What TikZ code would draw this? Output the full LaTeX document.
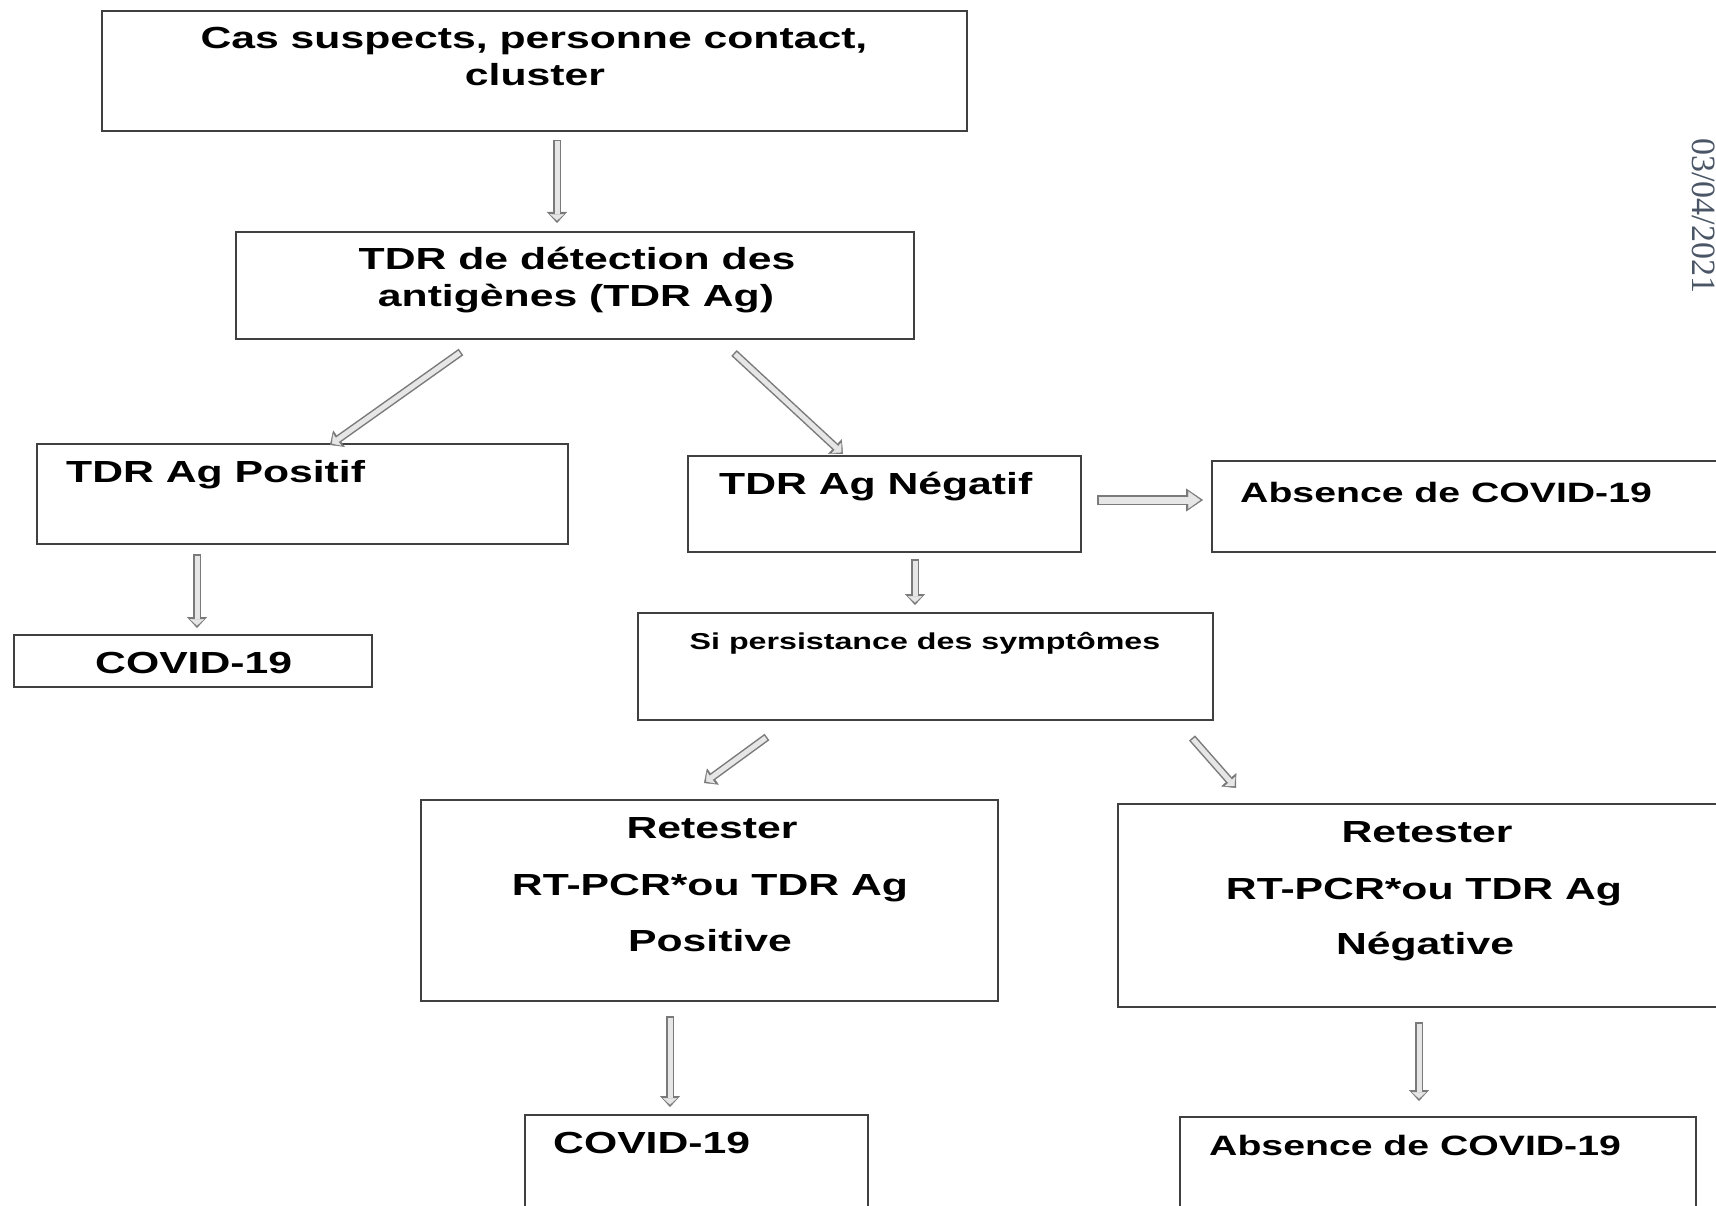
\documentclass[tikz,border=0pt]{standalone}
\usepackage{fontspec}
\setmainfont{Liberation Sans}[FakeStretch=1.4]
\newfontfamily\datefont{Liberation Serif}
\usetikzlibrary{arrows.meta}
\definecolor{boxline}{HTML}{404040}
\definecolor{arrline}{HTML}{7A7A7A}
\definecolor{arrfill}{HTML}{E6E6E6}
\definecolor{datecol}{HTML}{4A5565}
\tikzset{
  box/.style={draw=boxline, line width=2pt, fill=white, inner sep=0pt, outer sep=0pt, anchor=north west},
  txt/.style={inner sep=0pt, font=\bfseries\fontsize{30.5}{36}\selectfont},
  txtsmall/.style={inner sep=0pt, font=\bfseries\fontsize{28}{34}\selectfont},
  txttiny/.style={inner sep=0pt, font=\bfseries\fontsize{23}{28}\selectfont},
  holarrow/.style={line width=8pt, draw=arrline,
    -{Triangle[length=11pt,width=20pt,line width=0.4pt]},
    postaction={draw=arrfill, line width=5pt,
      -{Triangle[length=6.5pt,width=14pt,line width=0.4pt]},
      shorten >=2.4pt, shorten <=1.5pt}},
  holarrowbig/.style={line width=10pt, draw=arrline,
    -{Triangle[length=17pt,width=23pt,line width=0.4pt]},
    postaction={draw=arrfill, line width=7pt,
      -{Triangle[length=12pt,width=17pt,line width=0.4pt]},
      shorten >=2.6pt, shorten <=1.5pt}}
}
\begin{document}
\begin{tikzpicture}[x=1pt,y=-1pt]
\useasboundingbox (0,0) rectangle (1716,1206);
\clip (0,0) rectangle (1716,1206);
\fill[white] (0,0) rectangle (1716,1206);

% boxes
\node[box, minimum width=865pt, minimum height=120pt] (b1) at (102,11) {};
\node[box, minimum width=678pt, minimum height=107pt] (b2) at (236,232) {};
\node[box, minimum width=531pt, minimum height=100pt] (b3) at (37,444) {};
\node[box, minimum width=393pt, minimum height=96pt] (b4) at (688,456) {};
\node[box, minimum width=518pt, minimum height=91pt] (b5) at (1212,461) {};
\node[box, minimum width=358pt, minimum height=52pt] (b6) at (14,635) {};
\node[box, minimum width=575pt, minimum height=107pt] (b7) at (638,613) {};
\node[box, minimum width=577pt, minimum height=201pt] (b8) at (421,800) {};
\node[box, minimum width=612pt, minimum height=203pt] (b9) at (1118,804) {};
\node[box, minimum width=343pt, minimum height=115pt] (b10) at (525,1115) {};
\node[box, minimum width=516pt, minimum height=113pt] (b11) at (1180,1117) {};

% texts
\node[txt, anchor=base] (t1a) at (534,49) {Cas suspects, personne contact,};
\node[txt, anchor=base] (t1b) at (535,86) {cluster};
\node[txt, anchor=base] (t2a) at (577,270) {TDR de détection des};
\node[txt, anchor=base] (t2b) at (576,306) {antigènes (TDR Ag)};
\node[txt, anchor=base west] (t3) at (66,482) {TDR Ag Positif};
\node[txt, anchor=base west] (t4) at (719,494) {TDR Ag Négatif};
\node[txtsmall, anchor=base west] (t5) at (1240,502) {Absence de COVID-19};
\node[txt, anchor=base west] (t6) at (95,673) {COVID-19};
\node[txttiny, anchor=base] (t7) at (925,649) {Si persistance des symptômes};
\node[txt, anchor=base] (t8a) at (712,838) {Retester};
\node[txt, anchor=base] (t8b) at (710,895) {RT-PCR*ou TDR Ag};
\node[txt, anchor=base] (t8c) at (710,951) {Positive};
\node[txt, anchor=base] (t9a) at (1427,842) {Retester};
\node[txt, anchor=base] (t9b) at (1424,899) {RT-PCR*ou TDR Ag};
\node[txt, anchor=base] (t9c) at (1425,954) {Négative};
\node[txt, anchor=base west] (t10) at (553,1153) {COVID-19};
\node[txtsmall, anchor=base west] (t11) at (1209,1155) {Absence de COVID-19};

% date stamp
\node[anchor=base west, rotate=-90, inner sep=0pt, text=datecol,
      font=\datefont\fontsize{34}{34}\selectfont] (date) at (1692,138) {03/04/2021};

% arrow end points
\coordinate (a1s) at (557,140);  \coordinate (a1e) at (557,223);
\coordinate (a2s) at (461,352);  \coordinate (a2e) at (330,445);
\coordinate (a3s) at (734,353);  \coordinate (a3e) at (843,454);
\coordinate (a4s) at (197,554);  \coordinate (a4e) at (197,628);
\coordinate (a5s) at (1097,500); \coordinate (a5e) at (1203,500);
\coordinate (a6s) at (915,559);  \coordinate (a6e) at (915,605);
\coordinate (a7s) at (767,737);  \coordinate (a7e) at (704,783);
\coordinate (a8s) at (1192,738); \coordinate (a8e) at (1236,788);
\coordinate (a9s) at (670,1016); \coordinate (a9e) at (670,1107);
\coordinate (a10s) at (1419,1022); \coordinate (a10e) at (1419,1101);

% arrows
\draw[holarrow] (a1s) -- (a1e);
\draw[holarrow] (a2s) -- (a2e);
\draw[holarrow] (a3s) -- (a3e);
\draw[holarrow] (a4s) -- (a4e);
\draw[holarrowbig] (a5s) -- (a5e);
\draw[holarrow] (a6s) -- (a6e);
\draw[holarrow] (a7s) -- (a7e);
\draw[holarrow] (a8s) -- (a8e);
\draw[holarrow] (a9s) -- (a9e);
\draw[holarrow] (a10s) -- (a10e);
\end{tikzpicture}
\end{document}
